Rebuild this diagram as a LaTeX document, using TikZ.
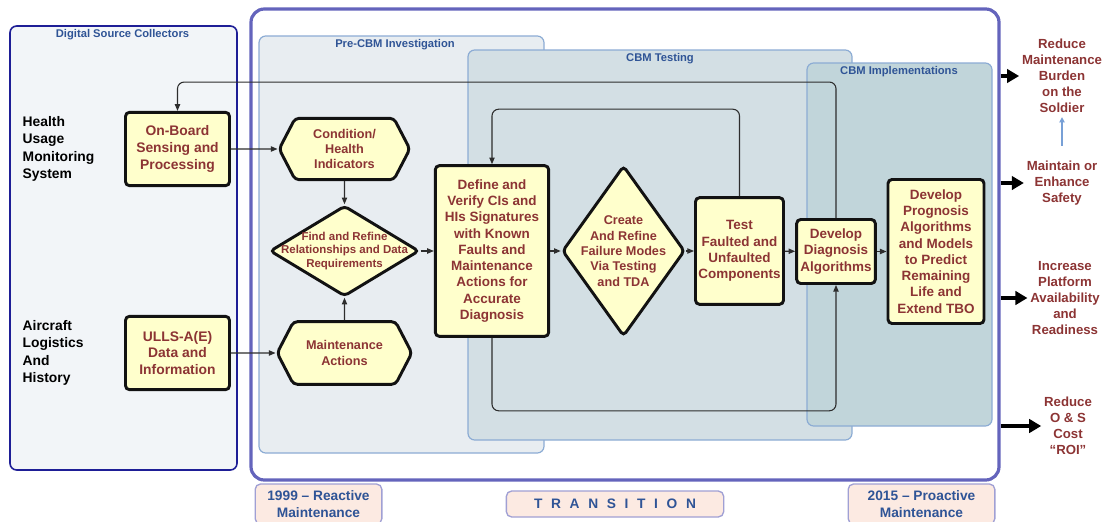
\documentclass[tikz,border=0pt]{standalone}
\usepackage{fontspec}
\setmainfont{Liberation Sans}
\setsansfont{Liberation Sans}
\usetikzlibrary{arrows.meta,fit,shapes.geometric,shapes.symbols}
\definecolor{ink}{RGB}{18,18,18}
\definecolor{wire}{RGB}{45,45,45}
\definecolor{boxfill}{RGB}{255,255,204}
\definecolor{boxtext}{RGB}{140,52,52}
\definecolor{titleblue}{RGB}{47,84,150}
\definecolor{navy}{RGB}{30,30,150}
\definecolor{transline}{RGB}{100,100,188}
\definecolor{dscfill}{RGB}{242,245,248}
\definecolor{prefill}{RGB}{232,237,241}
\definecolor{testfill}{RGB}{211,223,228}
\definecolor{implfill}{RGB}{193,213,218}
\definecolor{panelline}{RGB}{140,172,212}
\definecolor{tagfill}{RGB}{252,234,226}
\definecolor{tagline}{RGB}{160,160,212}
\definecolor{liftblue}{RGB}{120,160,214}
\tikzset{
  font=\sffamily\bfseries,
  stepBox/.style={draw=ink, line width=2.2pt, rounded corners=3pt, fill=boxfill,
    text=boxtext, align=center, inner sep=2pt,
    font=\fontsize{10.1}{12.2}\selectfont\sffamily\bfseries},
  srcBox/.style={stepBox, font=\fontsize{10.4}{12.5}\selectfont\sffamily\bfseries},
  hexBox/.style={stepBox, shape=signal, signal to=east and west,
    signal pointer angle=125, font=\fontsize{9.5}{11.3}\selectfont\sffamily\bfseries},
  diaBox/.style={stepBox, shape=diamond},
  diaText/.style={text=boxtext, align=center},
  panelBox/.style={draw=panelline, line width=0.9pt, rounded corners=5pt, inner sep=0pt},
  transBox/.style={draw=transline, line width=2.4pt, rounded corners=10pt, fill=white, inner sep=0pt},
  panelTitle/.style={text=titleblue, font=\fontsize{8.4}{10}\selectfont\sffamily\bfseries},
  sideText/.style={text=black, align=left, anchor=west,
    font=\fontsize{10.4}{13}\selectfont\sffamily\bfseries},
  goalText/.style={text=boxtext, align=center, inner sep=2pt,
    font=\fontsize{9.9}{12}\selectfont\sffamily\bfseries},
  tagBox/.style={draw=tagline, line width=1pt, fill=tagfill, rounded corners=4pt,
    text=titleblue, align=center, font=\fontsize{10.3}{12.5}\selectfont\sffamily\bfseries},
  link/.style={draw=wire, line width=0.8pt, -{Triangle[length=5pt,width=4pt]}},
  loopLine/.style={link, rounded corners=5pt},
  goalArrow/.style={draw=black, line width=2.3pt, -{Triangle[length=9pt,width=10pt]}},
  liftArrow/.style={draw=liftblue, line width=1pt, -{Triangle[length=4pt,width=4pt]}}
}
\begin{document}
\begin{tikzpicture}[x=0.75pt,y=-0.75pt]

% Frame
\useasboundingbox (0,0) rectangle (1106,521);

% Panels
\node[panelBox, draw=navy, line width=1.2pt, fill=dscfill, fit={(10,26) (237,470)}] (dsc) {};
\node[transBox, fit={(251,9) (999,480)}] (trans) {};
\node[panelBox, fill=prefill, fit={(259,36) (544,453)}] (pre) {};
\node[panelBox, fill=testfill, fit={(468,50) (852,440)}] (testing) {};
\node[panelBox, fill=implfill, fit={(807,63) (992,426)}] (impl) {};

\node[panelTitle] (dscTitle) at (122.5,35) {Digital Source Collectors};
\node[panelTitle] (preTitle) at (395,45) {Pre-CBM Investigation};
\node[panelTitle] (testTitle) at (660,59) {CBM Testing};
\node[panelTitle] (implTitle) at (899,72) {CBM Implementations};

% Sources
\node[sideText] (hums) at (18,149) {Health\\Usage\\Monitoring\\System};
\node[sideText] (logis) at (18,353) {Aircraft\\Logistics\\And\\History};
\node[srcBox, minimum width=78pt, minimum height=55pt] (onboard) at (177.5,149)
  {On-Board\\Sensing and\\Processing};
\node[srcBox, minimum width=78pt, minimum height=55pt] (ulls) at (177.5,353)
  {ULLS-A(E)\\Data and\\Information};

% Pre-CBM investigation
\node[hexBox, minimum width=98pt, minimum height=46pt] (cond) at (344.5,149)
  {Condition/\\Health\\Indicators};
\node[diaBox, minimum width=112pt, minimum height=68pt,
  label={[diaText, font=\fontsize{8.6}{10}\selectfont\sffamily\bfseries]center:Find and Refine\\Relationships and Data\\Requirements}]
  (find) at (344.5,251) {};
\node[hexBox, minimum width=101pt, minimum height=47pt] (maint) at (344.5,353)
  {Maintenance\\Actions};

% Testing and implementation
\node[stepBox, minimum width=85pt, minimum height=128pt] (define) at (492,251)
  {Define and\\Verify CIs and\\HIs Signatures\\with Known\\Faults and\\Maintenance\\Actions for\\Accurate\\Diagnosis};
\node[diaBox, minimum width=92pt, minimum height=128pt,
  label={[diaText, font=\fontsize{9.5}{11.5}\selectfont\sffamily\bfseries]center:Create\\And Refine\\Failure Modes\\Via Testing\\and TDA}]
  (create) at (623.5,251) {};
\node[stepBox, minimum width=66pt, minimum height=80pt] (test) at (739.5,251)
  {Test\\Faulted and\\Unfaulted\\Components};
\node[stepBox, minimum width=59pt, minimum height=48pt] (diag) at (836,251.5)
  {Develop\\Diagnosis\\Algorithms};
\node[stepBox, minimum width=72pt, minimum height=108pt] (prog) at (936,251.5)
  {Develop\\Prognosis\\Algorithms\\and Models\\to Predict\\Remaining\\Life and\\Extend TBO};

\draw[link] (onboard) -- (cond);
\draw[link] (ulls) -- (maint);
\draw[link] (cond) -- (find);
\draw[link] (maint) -- (find);
\draw[link] (find) -- (define);
\draw[link] (define) -- (create);
\draw[link] (create) -- (test);
\draw[link] (test) -- (diag);
\draw[link] (diag) -- (prog);

% Feedback loops
\draw[loopLine] (test.north) -- ++(0,-87) -| (define.north);
\draw[loopLine] (diag.north) -- ++(0,-136) -| (onboard.north);
\draw[loopLine] (define.south) -- ++(0,73) -| (diag.south);

% Outcomes
\node[goalText] (burden) at (1062,76) {Reduce\\Maintenance\\Burden\\on the\\Soldier};
\node[goalText] (safety) at (1062,183) {Maintain or\\Enhance\\Safety};
\node[goalText] (ready) at (1065,298) {Increase\\Platform\\Availability\\and\\Readiness};
\node[goalText] (cost) at (1068,426) {Reduce\\O \& S\\Cost\\``ROI''};

\draw[goalArrow] (trans.east |- burden) -- (burden.west);
\draw[goalArrow] (trans.east |- safety) -- (safety.west);
\draw[goalArrow] (trans.east |- ready) -- (ready.west);
\draw[goalArrow] (trans.east |- cost) -- (cost.west);
\draw[liftArrow, shorten <=9pt, shorten >=1pt] (safety) -- (burden);

% Timeline
\node[tagBox, minimum width=95pt, minimum height=30pt] (y1999) at (318.5,504)
  {1999 -- Reactive\\Maintenance};
\node[tagBox, minimum width=163pt, minimum height=19.5pt] (transTag) at (615,504)
  {{\spaceskip=6.5pt\relax T R A N S I T I O N}};
\node[tagBox, minimum width=110pt, minimum height=30pt] (y2015) at (921.5,504)
  {2015 -- Proactive\\Maintenance};

\end{tikzpicture}
\end{document}
